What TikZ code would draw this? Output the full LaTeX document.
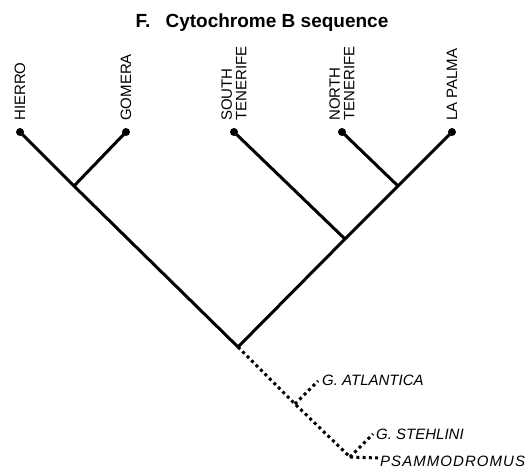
\documentclass[tikz,border=0pt]{standalone}
\usepackage{fontspec}
\setmainfont{Liberation Sans}
\begin{document}
\begin{tikzpicture}[x=1pt,y=-1pt,
  leaf/.style={circle,fill=black,inner sep=0pt,minimum size=8pt},
  branch/.style={line width=3pt},
  dotbranch/.style={line width=3pt,dash pattern=on 3pt off 3.3pt},
  lab/.style={rotate=90,anchor=west,inner sep=0pt,align=left,font=\fontsize{15}{14.5}\selectfont},
  ilab/.style={anchor=west,inner sep=0pt,font=\fontsize{15}{15}\selectfont\itshape}]
\useasboundingbox (0,0) rectangle (529,468);
\node[font=\fontsize{19}{20}\selectfont\bfseries] (title) at (262,23) {F.\hspace{0.8em}Cytochrome B sequence};
% leaves
\node[leaf] (H) at (20,132) {};
\node[leaf] (G) at (126,132) {};
\node[leaf] (ST) at (234,132) {};
\node[leaf] (NT) at (342,132) {};
\node[leaf] (LP) at (452,132) {};
% labels
\node[lab] (Hl) at (20,121) {HIERRO};
\node[lab] (Gl) at (126,121) {GOMERA};
\node[lab] (STl) at (234,121) {SOUTH\\TENERIFE};
\node[lab] (NTl) at (342,121) {NORTH\\TENERIFE};
\node[lab] (LPl) at (452,121) {LA PALMA};
% internal
\coordinate (HG) at (74,186);
\coordinate (NL) at (398,186);
\coordinate (SN) at (345,239);
\coordinate (R) at (238,347);
\draw[branch] (H.center) -- (HG);
\draw[branch] (G.center) -- (HG);
\draw[branch] (HG) -- (R);
\draw[branch] (NT.center) -- (NL);
\draw[branch] (LP.center) -- (NL) -- (SN);
\draw[branch] (ST.center) -- (SN);
\draw[branch] (SN) -- (R);
% outgroups
\coordinate (A) at (295,404);
\coordinate (P) at (350,457);
\node[ilab] (Al) at (322,380) {G. ATLANTICA};
\node[ilab] (Sl) at (376,434) {G. STEHLINI};
\node[ilab] (Pl) at (380,461) {\addfontfeature{LetterSpace=7}PSAMMODROMUS};
\coordinate (Ae) at (318,381);
\coordinate (Se) at (373,434);
\coordinate (Pe) at (378,458);
\draw[dotbranch] (R) -- (A) -- (P);
\draw[dotbranch] (A) -- (Ae);
\draw[dotbranch] (P) -- (Se);
\draw[dotbranch] (P) -- (Pe);
\end{tikzpicture}
\end{document}
